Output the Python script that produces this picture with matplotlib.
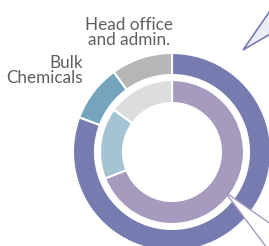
import matplotlib
matplotlib.use("Agg")
import matplotlib.pyplot as plt
from matplotlib.patches import Polygon

# Data
outer_labels = ["Other", "Bulk Chemicals", "Head office and admin."]
outer_values = [80.7, 9.3, 10.0]
outer_colors = ["#767bb0", "#74a5bd", "#b5b7b6"]

inner_labels = ["Other", "Bulk Chemicals", "Head office and admin."]
inner_values = [69.0, 16.0, 15.0]
inner_colors = ["#a69bbf", "#a5c4d1", "#dcdddd"]

W, H = 269, 246
fig = plt.figure(figsize=(W / 100, H / 100), dpi=100)
ax = fig.add_axes([0, 0, 1, 1])

cx, cy = 172, H - 152
R_out, w_out = 99, 22
R_in, w_in = 72, 23

ax.pie(outer_values, colors=outer_colors, radius=R_out, center=(cx, cy),
       startangle=90, counterclock=False, frame=True,
       wedgeprops=dict(width=w_out, edgecolor="white", linewidth=1.5))
ax.pie(inner_values, colors=inner_colors, radius=R_in, center=(cx, cy),
       startangle=90, counterclock=False, frame=True,
       wedgeprops=dict(width=w_in, edgecolor="white", linewidth=1.5))

ax.set_xlim(0, W)
ax.set_ylim(0, H)
ax.set_aspect("equal")
ax.axis("off")

# callouts
top = Polygon([(243, H - 50), (272, H - 8), (272, H - 33)], closed=True,
              facecolor="#e9eef6", edgecolor="#767bb0", linewidth=1.2, zorder=5)
ax.add_patch(top)
bot = Polygon([(225, H - 192), (275, H - 227), (270, H - 252)], closed=True,
              facecolor="white", edgecolor="#a69bbf", linewidth=1.0, zorder=5)
ax.add_patch(bot)

txt = dict(color="#5e5e5e", fontsize=12.3, family="Lato", fontweight="normal",
           linespacing=0.95)
ax.text(173, H - 45, "Head office\nand admin.", ha="right", va="baseline",
        multialignment="center", **txt)
ax.text(83, H - 83, "Bulk\nChemicals", ha="right", va="baseline",
        multialignment="right", **txt)

fig.savefig("out.png", dpi=100)
